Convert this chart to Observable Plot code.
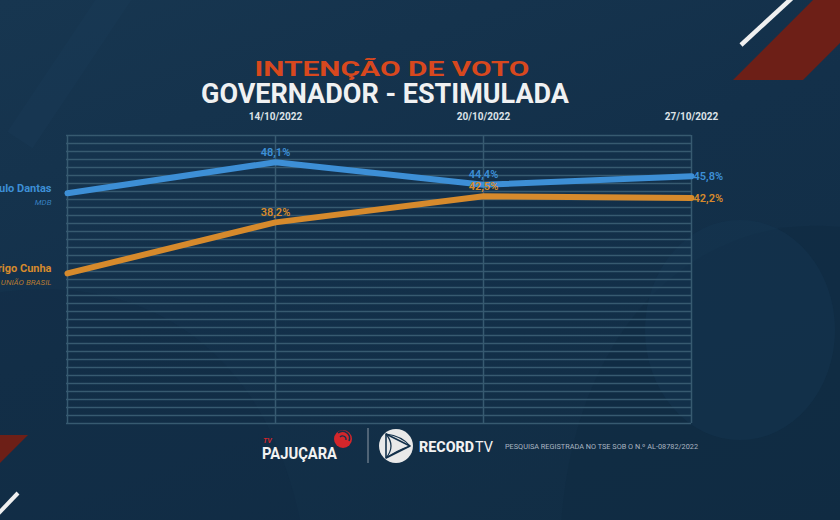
<!DOCTYPE html>
<html>
<head>
<meta charset="utf-8">
<script src="https://cdn.jsdelivr.net/npm/d3@7"></script>
<script src="https://cdn.jsdelivr.net/npm/@observablehq/plot@0.6"></script>
<style>
  html, body { margin: 0; padding: 0; background: #13304a; }
  #wrap { position: relative; width: 840px; height: 520px; overflow: hidden;
          background: linear-gradient(160deg, #173650 0%, #13304a 45%, #112d44 100%);
          font-family: Roboto, "Open Sans", sans-serif; }
  #wrap > svg, #chart > svg { position: absolute; left: 0; top: 0; }
</style>
</head>
<body>
<div id="wrap">
  <svg id="bg" width="840" height="520">
    <path d="M 560 560 C 560 330, 700 200, 860 230 L 860 560 Z" fill="#0f2a40" opacity="0.45"/>
    <ellipse cx="740" cy="330" rx="95" ry="110" fill="#173a55" opacity="0.35"/>
    <path d="M -40 300 C 120 260, 260 330, 300 520 L -40 520 Z" fill="#10293e" opacity="0.25"/>
    <line x1="120" y1="-10" x2="20" y2="140" stroke="#1a3b57" stroke-width="30" opacity="0.4"/>
    <line x1="792" y1="-2" x2="741" y2="45" stroke="#f0f0f0" stroke-width="4.5"/>
    <polygon points="813,0 845,0 845,38 803,80 733,80" fill="#6d1f17"/>
    <polygon points="0,435 28,435 0,463" fill="#6d1f17"/>
    <line x1="18" y1="493" x2="-3" y2="515" stroke="#f0f0f0" stroke-width="4"/>
  </svg>
  <div id="chart"></div>
  <svg id="fg" width="840" height="520">
    <text x="392" y="76" text-anchor="middle" font-size="21" font-weight="700" fill="#d8481e" textLength="275" lengthAdjust="spacingAndGlyphs">INTENÇÃO DE VOTO</text>
    <text x="385" y="103" text-anchor="middle" font-size="27" font-weight="700" fill="#f0f1f2" textLength="368" lengthAdjust="spacingAndGlyphs">GOVERNADOR - ESTIMULADA</text>

    <text x="263" y="443" font-size="7" font-weight="700" font-style="italic" fill="#d3262b">TV</text>
    <text x="262" y="459" font-size="16" font-weight="700" fill="#f2f2f2" textLength="75" lengthAdjust="spacingAndGlyphs">PAJUÇARA</text>
    <circle cx="343" cy="439" r="9" fill="#d3262b"/>
    <path d="M 338 433 A 7 7 0 0 1 349 441" stroke="#13304a" stroke-width="1.5" fill="none"/>
    <path d="M 340 437 A 3.5 3.5 0 0 1 346 440" stroke="#13304a" stroke-width="1.3" fill="none"/>
    <line x1="368" y1="428" x2="368" y2="463" stroke="#8c99a6" stroke-width="1"/>
    <circle cx="396" cy="446" r="17" fill="#e9e9e9"/>
    <path d="M 386 434 L 410 446 L 386 458 Z" fill="none" stroke="#13304a" stroke-width="1.6" stroke-linejoin="round"/>
    <path d="M 386 434 Q 396 446 386 458 M 386 434 Q 402 436 410 446 M 410 446 Q 398 450 386 458" fill="none" stroke="#13304a" stroke-width="1.2"/>
    <text x="419" y="452" font-size="15" font-weight="800" fill="#f2f2f2" textLength="55" lengthAdjust="spacingAndGlyphs">RECORD</text>
    <text x="475" y="452" font-size="15" font-weight="400" fill="#f2f2f2" textLength="18" lengthAdjust="spacingAndGlyphs">TV</text>
    <text x="505" y="449" font-size="6.5" fill="#aab5c0" textLength="193" lengthAdjust="spacingAndGlyphs">PESQUISA REGISTRADA NO TSE SOB O N.º AL-08782/2022</text>
  </svg>
</div>
<script>
// ---- data ----
const dates = ["", "14/10/2022", "20/10/2022", "27/10/2022"];
const candidates = ["Paulo Dantas", "Rodrigo Cunha"];
const parties = ["MDB", "UNIÃO BRASIL"];
const pauloValues = [43.0, 48.1, 44.4, 45.8];
const rodrigoValues = [29.8, 38.2, 42.5, 42.2];
const colors = ["#3d8fd6", "#d68a2c"];
const yDomain = [5.1, 52.5];
const gridCount = 36;

const series = [pauloValues, rodrigoValues];
const rows = [];
series.forEach((vals, c) => vals.forEach((v, i) => rows.push({
  date: dates[i], idx: i, value: v, candidate: candidates[c], party: parties[c]
})));
const firsts = rows.filter(d => d.idx === 0);
const mids = rows.filter(d => d.idx > 0 && d.idx < dates.length - 1);
const lasts = rows.filter(d => d.idx === dates.length - 1);
const fmt = d => d.value.toFixed(1).replace(".", ",") + "%";
const yTicks = d3.range(gridCount + 1).map(i => yDomain[0] + i * (yDomain[1] - yDomain[0]) / gridCount);
const gridColor = "#375a70";

const chart = Plot.plot({
  width: 840,
  height: 520,
  marginTop: 135,
  marginBottom: 97,
  marginLeft: 66,
  marginRight: 149,
  style: { background: "transparent", overflow: "visible", fontFamily: "Roboto, sans-serif" },
  x: { type: "point", domain: dates, padding: 0, axis: null },
  y: { domain: yDomain, axis: null },
  color: { domain: candidates, range: colors },
  marks: [
    Plot.ruleY(yTicks, { stroke: gridColor, strokeWidth: 1.5 }),
    Plot.ruleX(dates, { stroke: gridColor, strokeWidth: 1.5 }),
    Plot.axisX(dates.slice(1), { anchor: "top", tickSize: 0, tickPadding: 16, fill: "#dde2e7", fontSize: 10, fontWeight: "bold", label: null }),
    Plot.line(rows, { x: "date", y: "value", stroke: "candidate", strokeWidth: 6, strokeLinecap: "round", strokeLinejoin: "round" }),
    Plot.text(mids, { x: "date", y: "value", text: fmt, fill: "candidate", dy: -10, fontSize: 11, fontWeight: 600 }),
    Plot.text(lasts, { x: "date", y: "value", text: fmt, fill: "candidate", dx: 2, textAnchor: "start", fontSize: 11, fontWeight: 600 }),
    Plot.text(firsts, { x: "date", y: "value", text: "candidate", fill: "candidate", dx: -16, dy: -5, textAnchor: "end", fontSize: 11, fontWeight: "bold" }),
    Plot.text(firsts, { x: "date", y: "value", text: "party", fill: "candidate", dx: -16, dy: 9, textAnchor: "end", fontSize: 8, fontStyle: "italic", fillOpacity: 0.85 })
  ]
});
document.getElementById("chart").appendChild(chart);
</script>
</body>
</html>
